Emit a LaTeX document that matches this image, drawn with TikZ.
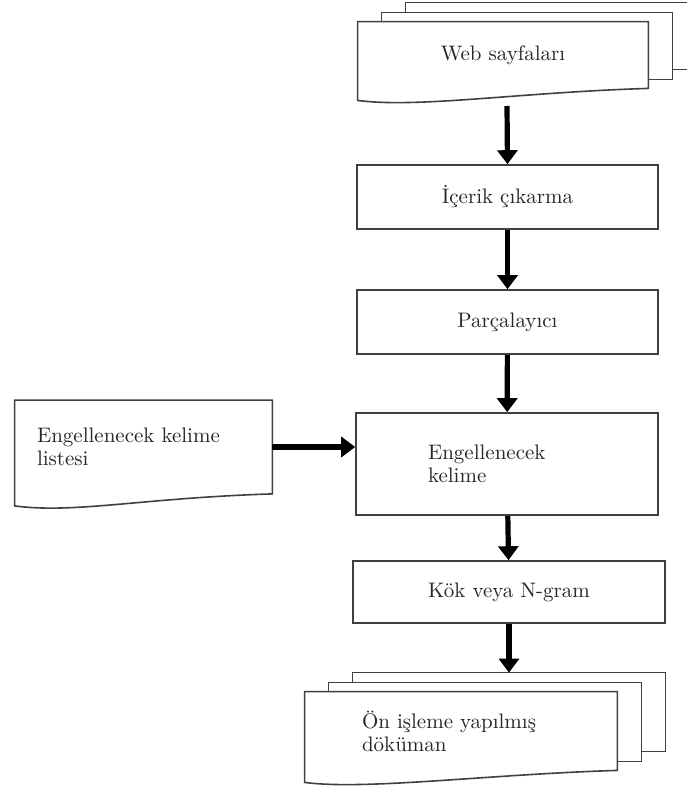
\documentclass[tikz,border=0pt]{standalone}
\usepackage{tikz}
\usetikzlibrary{positioning,arrows.meta,calc,backgrounds}

% multi-page and single-page document outlines around a node
\newcommand{\docframe}[1]{%
  \begin{scope}[on background layer]
    \draw[docline, fill=white] ($(#1.south west)+(0,12)$) -- (#1.north west) -- (#1.north east) -- (#1.south east)
      .. controls ($(#1.south east)+(-130,4)$) and ($(#1.south west)+(60,20)$) .. ($(#1.south west)+(0,12)$) -- cycle;
  \end{scope}}
\newcommand{\docstack}[1]{%
  \begin{scope}[on background layer]
    \foreach \dx/\dy in {48/-19,24/-9}
      \draw[docline, fill=white] ($(#1.north west)+(\dx,\dy)$) rectangle ($(#1.south east)+(\dx,\dy)$);
  \end{scope}
  \docframe{#1}}

\begin{document}
\begin{tikzpicture}[
  x=0.5pt, y=-0.5pt,
  every node/.style={font=\fontsize{10.5}{11.5}\selectfont, text=black!85},
  docline/.style={draw=black!75, line width=0.8pt},
  procbox/.style={rectangle, draw=black!75, line width=0.8pt, fill=white},
  docbox/.style={rectangle, draw=none, inner ysep=0pt},
  flow/.style={draw=black, line width=2.6pt, -{Triangle[width=10pt,length=7pt]}}
]
\useasboundingbox (0,0) rectangle (686,787);
\clip (0,0) rectangle (686,787);

\node[docbox, minimum width=145pt, minimum height=33pt] (web) at (503,55) {Web sayfalar\i};
\docstack{web}

\node[procbox, minimum width=150.5pt, minimum height=32pt] (icerik) at (507.5,197) {\.Içerik \c{c}\i karma};
\node[procbox, minimum width=150.5pt, minimum height=32pt] (parca) at (507.5,322) {Par\c{c}alay\i c\i};
\node[procbox, minimum width=151pt, minimum height=51pt, text width=79pt, inner xsep=36pt, align=left]
  (engel) at (507,464) {Engellenecek\\kelime};
\node[procbox, minimum width=156pt, minimum height=31pt] (kok) at (509,592) {K\"ok veya N-gram};

\node[docbox, minimum width=128.5pt, minimum height=46.5pt, text width=106.5pt, inner xsep=11pt, align=left] (liste) at (143.5,447) {Engellenecek kelime\\listesi};
\docframe{liste}

\node[docbox, minimum width=156pt, minimum height=39pt, text width=99pt, inner xsep=28.5pt, align=left] (onis) at (461,731) {\"On i\c{s}leme yap\i lm\i\c{s}\\d\"ok\"uman};
\docstack{onis}

\coordinate (webout) at (507,106);
\coordinate (onistop) at ($(onis.north)+(48,-19)$);

\draw[flow] (webout) -- (icerik.north);
\draw[flow] (icerik) -- (parca);
\draw[flow] (parca) -- (engel);
\draw[flow] (liste.east) -- (liste.east -| engel.west);
\draw[flow] (engel) -- (kok);
\draw[flow] (kok.south) -- (kok.south |- onistop);

\end{tikzpicture}
\end{document}
